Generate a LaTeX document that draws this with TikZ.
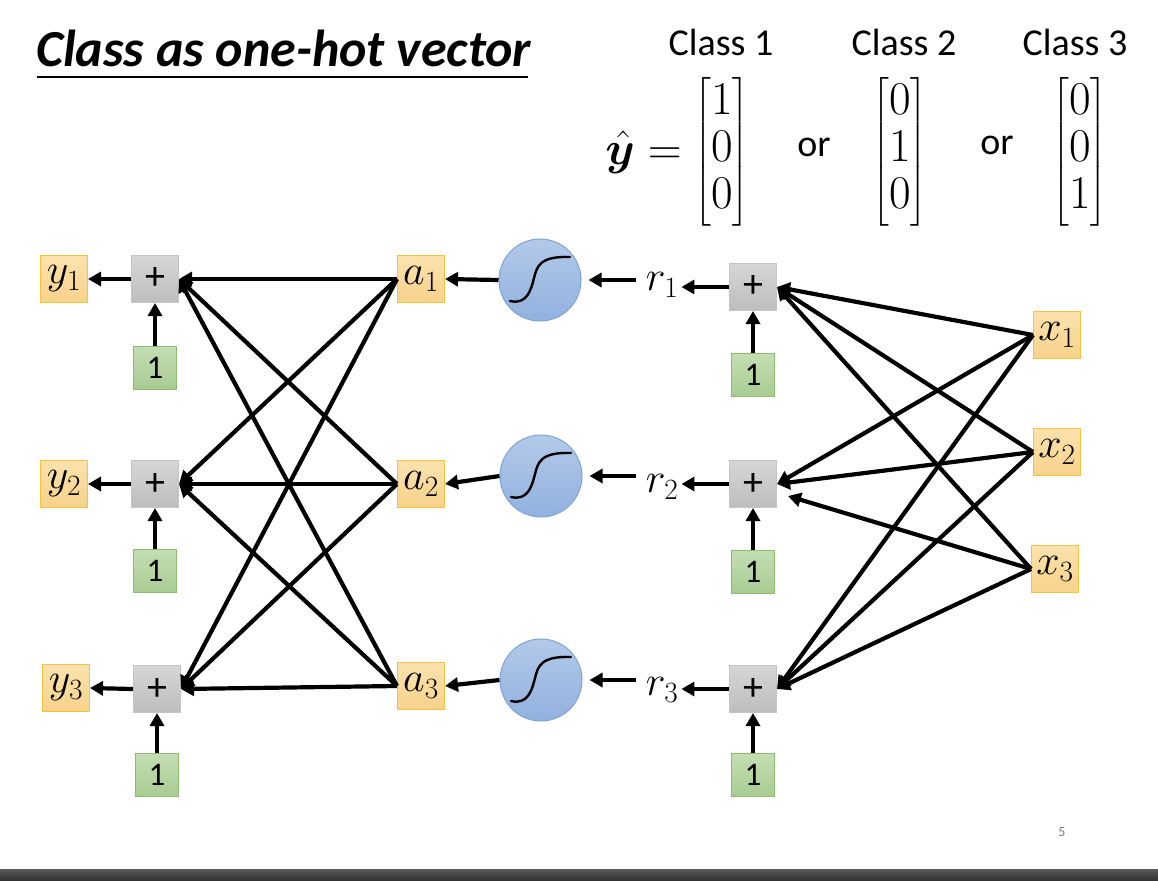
\documentclass[tikz,border=0pt]{standalone}
\usepackage{fix-cm}
\usepackage{amsmath,bm}
\usepackage{fontspec}
\newfontfamily\carl{Carlito}
\usetikzlibrary{arrows.meta,calc}
\definecolor{obord}{HTML}{F5C242}
\definecolor{otop}{HTML}{FBE2AE}
\definecolor{obot}{HTML}{F7D28A}
\definecolor{gbord}{HTML}{C4C4C4}
\definecolor{gtop}{HTML}{D6D6D6}
\definecolor{gbot}{HTML}{BDBDBD}
\definecolor{nbord}{HTML}{8DBA6F}
\definecolor{ntop}{HTML}{C4DEB4}
\definecolor{nbot}{HTML}{A8CB92}
\definecolor{cbord}{HTML}{7EA3D6}
\definecolor{ctop}{HTML}{B3C9E9}
\definecolor{cbot}{HTML}{91B1DE}
\begin{document}
\begin{tikzpicture}[x=1pt,y=-1pt,
  varbox/.style={minimum width=47pt,minimum height=47pt,inner sep=0pt,draw=obord,line width=1pt,top color=otop,bottom color=obot,font=\fontsize{42}{46}\selectfont},
  plusbox/.style={minimum width=47pt,minimum height=47pt,inner sep=0pt,draw=gbord,line width=1pt,top color=gtop,bottom color=gbot,font=\carl\fontsize{40}{42}\selectfont},
  onebox/.style={minimum width=43pt,minimum height=43pt,inner sep=0pt,draw=nbord,line width=1pt,top color=ntop,bottom color=nbot,font=\carl\fontsize{33}{36}\selectfont},
  sigc/.style={circle,minimum size=82pt,inner sep=0pt,draw=cbord,line width=1pt,top color=ctop,bottom color=cbot},
  lbl/.style={inner sep=0pt,font=\fontsize{42}{46}\selectfont},
  arr/.style={line width=4.2pt,-{Triangle[length=13pt,width=14pt]}},
  ctext/.style={inner sep=0pt,font=\carl\fontsize{38}{44}\selectfont},
  mat/.style={inner sep=0pt,font=\fontsize{47}{47}\selectfont}
]
\useasboundingbox (0,0) rectangle (1158,880);
\fill[white] (0,0) rectangle (1158,880);
% title
\node[inner sep=0pt,anchor=base west,font=\carl\bfseries\itshape\fontsize{52}{58}\selectfont] (title) at (36,67) {Class as one-hot vector};
\draw[line width=1.5pt] (37,77) -- (528,77);
% class labels
\node[ctext] (c1) at (721,42) {Class 1};
\node[ctext] (c2) at (904,42) {Class 2};
\node[ctext] (c3) at (1075,42) {Class 3};
\node[mat,anchor=east] (yh) at (682,152) {$\hat{\bm{y}}=$};
\node[mat] (m1) at (722,152) {$\begin{bmatrix}1\\0\\0\end{bmatrix}$};
\node[ctext] (or1) at (814,147) {or};
\node[mat] (m2) at (900,152) {$\begin{bmatrix}0\\1\\0\end{bmatrix}$};
\node[ctext] (or2) at (997,145) {or};
\node[mat] (m3) at (1080,152) {$\begin{bmatrix}0\\0\\1\end{bmatrix}$};
% left column
\node[varbox] (y1) at (64,279) {$y_1$};
\node[varbox] (y2) at (64,484) {$y_2$};
\node[varbox] (y3) at (66,688) {$y_3$};
\node[plusbox] (lp1) at (155,279) {+};
\node[plusbox] (lp2) at (155,484) {+};
\node[plusbox] (lp3) at (157,689) {+};
\node[onebox] (lo1) at (155,368) {1};
\node[onebox] (lo2) at (155,571) {1};
\node[onebox] (lo3) at (157,775) {1};
\node[varbox] (a1) at (421,279) {$a_1$};
\node[varbox] (a2) at (421,484) {$a_2$};
\node[varbox] (a3) at (421,686) {$a_3$};
\node[sigc] (s1) at (540,280) {};
\node[sigc] (s2) at (541,476) {};
\node[sigc] (s3) at (541,680) {};
\foreach \s in {s1,s2,s3}{
  \draw[line width=2.4pt,line cap=round] ($(\s)+(-30,21)$) .. controls ($(\s)+(-13,25)$) and ($(\s)+(-9,10)$) .. ($(\s)+(-6,-2)$) .. controls ($(\s)+(-3,-14)$) and ($(\s)+(0,-24)$) .. ($(\s)+(30,-23)$);
}
\node[lbl] (r1) at (662,285) {$r_1$};
\node[lbl] (r2) at (662,487) {$r_2$};
\node[lbl] (r3) at (662,690) {$r_3$};
\node[plusbox] (rp1) at (753,287) {+};
\node[plusbox] (rp2) at (753,484) {+};
\node[plusbox] (rp3) at (753,689) {+};
\node[onebox] (ro1) at (753,375) {1};
\node[onebox] (ro2) at (753,572) {1};
\node[onebox] (ro3) at (753,775) {1};
\node[varbox] (x1) at (1057,335) {$x_1$};
\node[varbox] (x2) at (1057,452) {$x_2$};
\node[varbox] (x3) at (1055,569) {$x_3$};
% simple arrows
\foreach \i in {1,2,3}{
  \draw[arr] (lp\i.west) -- (y\i.east);
  \draw[arr] (lo\i.north) -- (lp\i.south);
  \draw[arr] (ro\i.north) -- (rp\i.south);
  \draw[arr] (s\i.west) -- (a\i.east);
  \draw[arr] ($(r\i.west |- s\i.east)+(-10,0)$) -- ($(s\i.east)+(7,0)$);
  \draw[arr] (rp\i.west) -- ($(r\i.east |- rp\i.west)+(3,0)$);
}
% full connections
\foreach \i in {1,2,3}{
  \foreach \j in {1,2,3}{
    \draw[arr] (a\j.west) -- (lp\i.east);
  }
}
\coordinate (rp2low) at (788,496);
\draw[arr] (x1.west) -- (rp1.east);
\draw[arr] (x2.west) -- (rp1.east);
\draw[arr] (x3.west) -- (rp1.east);
\draw[arr] (x1.west) -- (rp2.east);
\draw[arr] (x2.west) -- (rp2.east);
\draw[arr] (x3.west) -- (rp2low);
\draw[arr] (x1.west) -- (rp3.east);
\draw[arr] (x2.west) -- (rp3.east);
\draw[arr] (x3.west) -- (rp3.east);
% page number and bar
\node[inner sep=0pt,text=gray,font=\carl\fontsize{14}{16}\selectfont] (pg) at (1062,832) {5};
\fill[top color=black!65,bottom color=black!80] (0,869) rectangle (1158,880);
\end{tikzpicture}
\end{document}
